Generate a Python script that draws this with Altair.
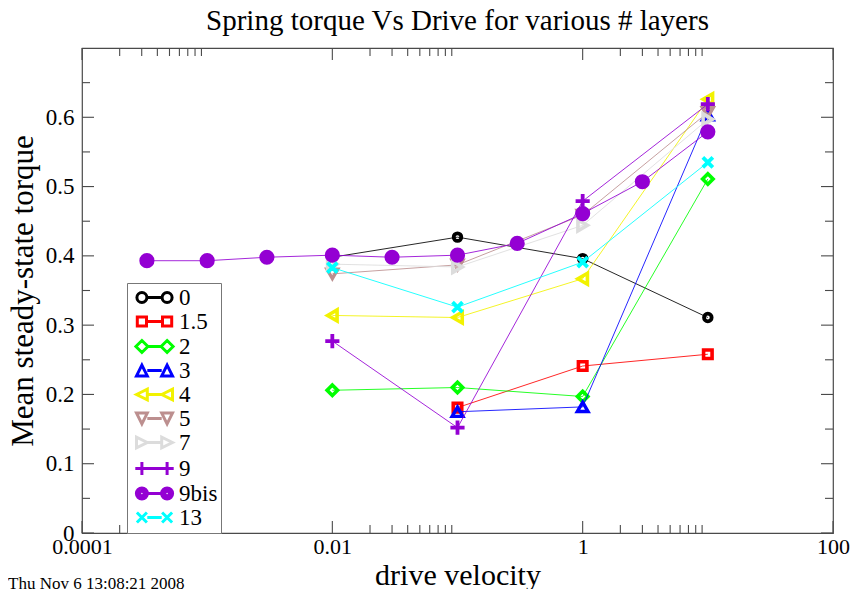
import altair as alt
import pandas as pd

# ---------------- data ----------------
names = ["0", "1.5", "2", "3", "4", "5", "7", "9", "9bis", "13"]

x_std = [0.01, 0.1, 1, 10]
x_short = [0.1, 1, 10]
x_9bis = [0.00033, 0.001, 0.003, 0.01, 0.03, 0.1, 0.3, 1, 3, 10]

y_0 = [0.398, 0.427, 0.396, 0.311]
y_1_5 = [0.181, 0.241, 0.258]
y_2 = [0.206, 0.210, 0.197, 0.511]
y_3 = [0.175, 0.182, 0.603]
y_4 = [0.314, 0.311, 0.367, 0.626]
y_5 = [0.374, 0.387, 0.459, 0.607]
y_7 = [0.388, 0.384, 0.444, 0.597]
y_9 = [0.277, 0.152, 0.479, 0.619]
y_9bis = [0.393, 0.393, 0.398, 0.401, 0.398, 0.401, 0.418, 0.461, 0.507, 0.579]
y_13 = [0.383, 0.326, 0.391, 0.535]

series_x = [x_std, x_short, x_std, x_short, x_std, x_std, x_std, x_std, x_9bis, x_std]
series_y = [y_0, y_1_5, y_2, y_3, y_4, y_5, y_7, y_9, y_9bis, y_13]

x_major = [0.0001, 0.01, 1, 100]
x_minor = [0.0002, 0.0003, 0.0004, 0.0005, 0.0006, 0.0007, 0.0008, 0.0009,
           0.02, 0.03, 0.04, 0.05, 0.06, 0.07, 0.08, 0.09,
           2, 3, 4, 5, 6, 7, 8, 9]
y_major = [0, 0.1, 0.2, 0.3, 0.4, 0.5, 0.6]
y_minor = [0.05, 0.15, 0.25, 0.35, 0.45, 0.55, 0.65]

stamp = "Thu Nov  6 13:08:21 2008"

# ---------------- styles ----------------
SERIF = "Liberation Serif"
W, H = 751, 485
FRAME = "#4a4a4a"
colors = ["#000000", "#ff0000", "#00ff00", "#0000ff", "#f2f200",
          "#bc8f8f", "#dcdcdc", "#9400d3", "#9400d3", "#00ffff"]
PLUS = "M-1,0H1M0,-1V1"
XMARK = "M-1,-1L1,1M-1,1L1,-1"
shapes = ["circle", "square", "diamond", "triangle-up", "triangle-left",
          "triangle-down", "triangle-right", PLUS, "circle", XMARK]
sizes = [58, 72, 110, 115, 120, 115, 120, 200, 230, 100]
filled = [False] * 8 + [True, False]
strokes = [3.8, 3.6, 3.6, 3.4, 3.6, 3.4, 3.6, 3.8, 0, 3.8]


def leg_path(kind):
    c = 1.26
    parts = []
    for cx in (-c, c):
        if kind == "circle":
            m = 0.5
            parts.append(f"M{cx-m:.3f},0a{m},{m} 0 1,0 {2*m:.3f},0a{m},{m} 0 1,0 {-2*m:.3f},0Z")
        elif kind == "disc":
            for m in (0.55, 0.38, 0.22, 0.08):
                parts.append(f"M{cx-m:.3f},0a{m},{m} 0 1,0 {2*m:.3f},0a{m},{m} 0 1,0 {-2*m:.3f},0Z")
        elif kind == "square":
            m = 0.46
            parts.append(f"M{cx-m:.3f},{-m}h{2*m:.3f}v{2*m:.3f}h{-2*m:.3f}Z")
        elif kind == "diamond":
            d = 0.6
            parts.append(f"M{cx:.3f},{-d:.3f}L{cx+d:.3f},0L{cx:.3f},{d:.3f}L{cx-d:.3f},0Z")
        elif kind == "up":
            m = 0.54
            parts.append(f"M{cx:.3f},{-m}L{cx+m:.3f},{m}L{cx-m:.3f},{m}Z")
        elif kind == "down":
            m = 0.54
            parts.append(f"M{cx:.3f},{m}L{cx+m:.3f},{-m}L{cx-m:.3f},{-m}Z")
        elif kind == "left":
            m = 0.54
            parts.append(f"M{cx-m:.3f},0L{cx+m:.3f},{-m}L{cx+m:.3f},{m}Z")
        elif kind == "right":
            m = 0.54
            parts.append(f"M{cx+m:.3f},0L{cx-m:.3f},{-m}L{cx-m:.3f},{m}Z")
        elif kind == "plus":
            m = 0.66
            parts.append(f"M{cx-m:.3f},0H{cx+m:.3f}M{cx:.3f},{-m}V{m}")
        elif kind == "x":
            k = 0.5
            parts.append(f"M{cx-k:.3f},{-k:.3f}L{cx+k:.3f},{k:.3f}M{cx-k:.3f},{k:.3f}L{cx+k:.3f},{-k:.3f}")
    parts.append(f"M{-c+0.54:.3f},0H{c-0.54:.3f}")
    return "".join(parts)


leg_kinds = ["circle", "square", "diamond", "up", "left", "down", "right", "plus", "disc", "x"]
leg_paths = [leg_path(k) for k in leg_kinds]

xscale = alt.Scale(type="log", domain=[0.0001, 100], nice=False)
yscale = alt.Scale(domain=[0, 0.7], nice=False, zero=False)

x_axis = alt.Axis(values=x_major, format="~g", title="drive velocity", domain=False,
                  ticks=False, grid=False, labelFlush=False, labelOverlap=False,
                  labelFont=SERIF, labelFontSize=22, labelColor="black", labelPadding=3,
                  titleFont=SERIF, titleFontSize=30, titleFontWeight="normal",
                  titleColor="black", titlePadding=3)
y_axis = alt.Axis(values=y_major, format="~g", title="Mean steady-state torque",
                  domain=False, ticks=False, grid=False, labelFlush=False,
                  labelOverlap=False, labelFont=SERIF, labelFontSize=23,
                  labelColor="black", labelPadding=8, titleFont=SERIF,
                  titleFontSize=31, titleFontWeight="normal", titleColor="black",
                  titlePadding=6)


def X(field):
    return alt.X(field, type="quantitative", scale=xscale, axis=x_axis)


def Y(field):
    return alt.Y(field, type="quantitative", scale=yscale, axis=y_axis)


layers = []

# tick marks (inward, on all four sides)
for vals, ln in ((x_major, 12), (x_minor, 8)):
    tdf = pd.DataFrame({"v": vals})
    base = alt.Chart(tdf).mark_rule(color=FRAME, strokeWidth=1.1)
    layers.append(base.encode(x=X("v"), y=alt.value(H), y2=alt.value(H - ln)))
    layers.append(base.encode(x=X("v"), y=alt.value(0), y2=alt.value(ln)))
for vals, ln in ((y_major, 12), (y_minor, 8)):
    tdf = pd.DataFrame({"v": vals})
    base = alt.Chart(tdf).mark_rule(color=FRAME, strokeWidth=1.1)
    layers.append(base.encode(y=Y("v"), x=alt.value(0), x2=alt.value(ln)))
    layers.append(base.encode(y=Y("v"), x=alt.value(W), x2=alt.value(W - ln)))

# data series
for i, name in enumerate(names):
    df = pd.DataFrame({"x": series_x[i], "y": series_y[i]})
    base = alt.Chart(df).encode(x=X("x"), y=Y("y"))
    layers.append(base.mark_line(color=colors[i], strokeWidth=1, opacity=0.85))
    if filled[i]:
        pt = base.mark_point(shape=shapes[i], size=sizes[i], filled=True,
                             color=colors[i], opacity=1)
    else:
        pt = base.mark_point(shape=shapes[i], size=sizes[i], filled=False,
                             color=colors[i], strokeWidth=strokes[i], opacity=1)
    layers.append(pt)

# legend (built from scales; no data drawn)
leg = alt.Legend(title=None, orient="none", legendX=45, legendY=235,
                 fillColor="white", strokeColor="#777777", padding=3,
                 labelFont=SERIF, labelFontSize=23, labelColor="black",
                 labelOffset=13, symbolOffset=13, symbolSize=400,
                 symbolStrokeWidth=3, symbolFillColor="transparent",
                 rowPadding=0, symbolOpacity=1)
legdf = pd.DataFrame({"series": names, "x": [1.0] * len(names), "y": [-1.0] * len(names)})
layers.append(
    alt.Chart(legdf).transform_filter("datum.y >= 0").mark_point(filled=False, opacity=1)
    .encode(
        x=X("x"), y=Y("y"),
        color=alt.Color("series:N", scale=alt.Scale(domain=names, range=colors), legend=leg),
        shape=alt.Shape("series:N", scale=alt.Scale(domain=names, range=leg_paths), legend=leg),
    )
)

# timestamp
layers.append(
    alt.Chart(pd.DataFrame({"t": [stamp]})).mark_text(
        font=SERIF, fontSize=17, align="left", baseline="middle", color="black"
    ).encode(text="t:N", x=alt.value(-74), y=alt.value(H + 51))
)

chart = alt.layer(*layers).properties(
    width=W, height=H,
    title=alt.Title("Spring torque Vs Drive for various # layers", font=SERIF,
                    fontSize=29, fontWeight="normal", color="black",
                    anchor="middle", offset=11),
    padding={"left": 74, "top": 40, "right": 17, "bottom": 56},
    autosize=alt.AutoSizeParams(type="none"),
).configure(font=SERIF).configure_view(stroke=FRAME, strokeWidth=1.2).configure_legend(
    labelFont=SERIF, labelFontSize=23, labelColor="black"
)

chart.save("out.html", embed_options={"renderer": "svg", "actions": False})
